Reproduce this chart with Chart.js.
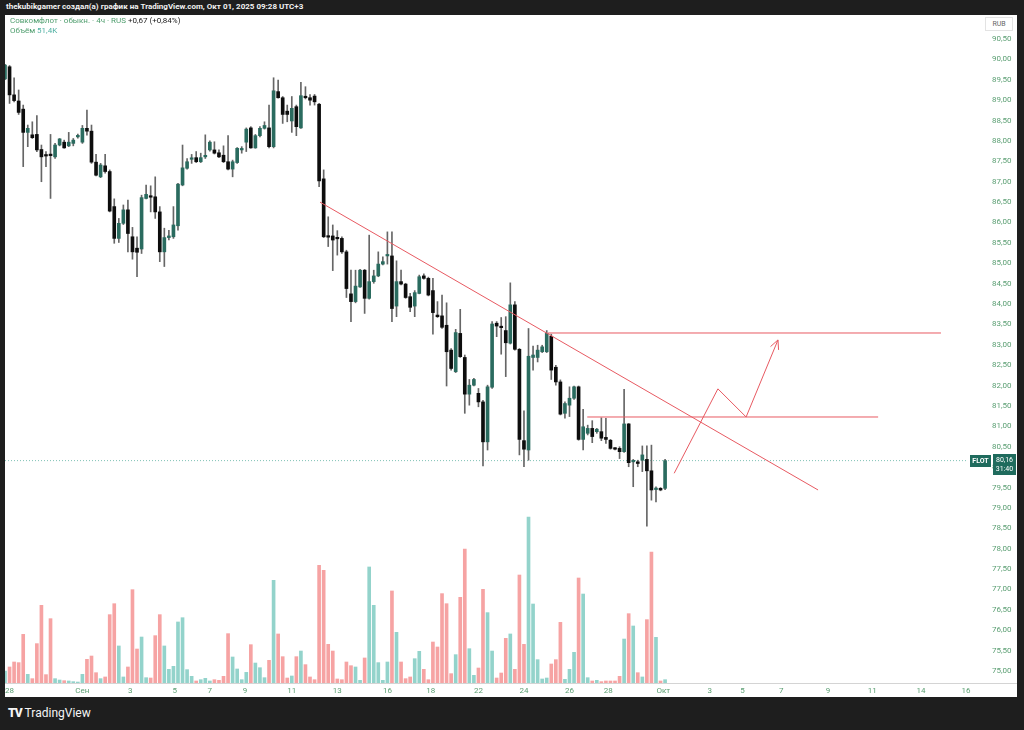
<!DOCTYPE html>
<html>
  <head>
    <meta charset="utf-8">
    <style>
      body {
        margin: 0;
        width: 1024px;
        height: 730px;
        overflow: hidden;
        background: #1e1e1e;
        font-family: Roboto, "Liberation Sans", sans-serif;
      }
      #header {
        position: absolute;
        left: 6px;
        top: 0;
        height: 14px;
        line-height: 14px;
        color: #f2f2f2;
        font-size: 8px;
        font-weight: bold;
      }
      #chart-container {
        position: absolute;
        left: 5px;
        top: 15px;
        width: 1012px;
        height: 682px;
        background: #ffffff;
      }
      #legend {
        position: absolute;
        left: 10px;
        top: 16px;
        font-size: 8px;
        line-height: 10px;
        color: #4f9e6e;
      }
      #rub {
        position: absolute;
        left: 985px;
        top: 17px;
        width: 26px;
        height: 12px;
        border: 1px solid #e3e3e3;
        background: #fff;
        color: #666;
        font-size: 7px;
        line-height: 12px;
        text-align: center;
      }
      #logo {
        position: absolute;
        left: 8px;
        top: 705px;
        color: #f5f5f5;
        font-size: 12px;
        line-height: 16px;
      }
      #logo b { font-weight: 900; letter-spacing: -1px; margin-right: 3px; }
    </style>
  </head>
  <body>
    <div id="header">thekubikgamer создал(а) график на TradingView.com, Окт 01, 2025 09:28 UTC+3</div>
    <div id="chart-container">
      <canvas id="chart"></canvas>
    </div>
    <div id="legend">
      <div>Совкомфлот · обыкн. · 4ч · RUS <span style="color:#222">+0,67 (+0,84%)</span></div>
      <div>Объём <span style="color:#4fb0a2">51,4K</span></div>
    </div>
    <div id="rub">RUB</div>
    <div id="logo"><b>TV</b>TradingView</div>

    <script src="https://cdn.jsdelivr.net/npm/chart.js"></script>
    <script>
      // 4h candles, FLOT (Совкомфлот), Aug 28 - Oct 1 2025
      const opens = [
        89.52, 89.82, 89.13, 88.98, 88.78, 88.21, 88.15, 88.16, 87.79, 87.65,
        87.65, 87.61, 87.90, 87.97, 87.88, 87.94, 88.10, 87.97, 88.31, 88.24,
        87.48, 87.12, 87.39, 87.25, 86.39, 85.61, 85.98, 86.31, 85.65, 85.37,
        85.35, 86.59, 86.63, 86.63, 86.26, 85.28, 85.63, 85.65, 85.92, 86.92,
        87.33, 87.55, 87.59, 87.49, 87.61, 87.78, 87.78, 87.71, 87.65, 87.49,
        87.31, 87.47, 87.78, 87.97, 88.32, 87.83, 88.13, 88.31, 88.32, 87.86,
        89.21, 89.06, 88.73, 88.49, 88.84, 88.32, 89.07, 89.06, 89.10, 88.90,
        87.07, 85.65, 85.67, 85.61, 85.61, 85.28, 84.25, 84.06, 84.42, 84.83,
        84.14, 84.55, 84.69, 84.98, 85.18, 85.18, 83.95, 84.55, 84.49, 84.18,
        83.95, 84.26, 84.69, 84.63, 84.33, 83.73, 83.71, 83.48, 82.87, 82.34,
        83.28, 82.69, 81.79, 82.01, 81.81, 81.60, 80.62, 81.96, 83.53, 83.43,
        83.35, 83.04, 83.98, 82.89, 80.65, 80.42, 82.69, 82.69, 82.83, 82.83,
        83.21, 82.45, 82.09, 81.32, 81.52, 81.69, 81.97, 80.68, 80.83, 80.95,
        80.87, 80.87, 80.73, 80.66, 80.46, 80.46, 80.38, 81.06, 80.13, 80.13,
        80.17, 80.19, 79.91, 79.45, 79.48, 79.48
      ];
      const highs = [
        89.88, 89.85, 89.55, 89.25, 88.88, 88.39, 88.47, 88.62, 87.90, 87.74,
        88.16, 87.94, 88.06, 88.02, 88.21, 88.06, 88.17, 88.38, 88.76, 88.39,
        87.67, 87.45, 87.67, 87.29, 86.58, 86.10, 86.43, 86.55, 85.88, 85.65,
        86.67, 86.92, 86.90, 87.12, 86.39, 85.86, 85.81, 86.39, 86.96, 87.90,
        87.57, 87.67, 87.74, 87.70, 88.15, 88.00, 87.98, 87.78, 87.88, 88.13,
        87.53, 87.84, 87.86, 88.32, 88.35, 88.16, 88.35, 88.47, 88.88, 89.55,
        89.49, 89.09, 88.88, 89.09, 88.88, 89.44, 89.33, 89.14, 89.14, 88.92,
        87.29, 86.14, 85.94, 85.80, 85.65, 85.32, 84.83, 84.83, 84.85, 84.85,
        85.69, 84.83, 85.28, 85.16, 85.77, 85.77, 85.06, 84.83, 84.51, 84.26,
        84.33, 84.71, 84.74, 84.66, 84.63, 84.06, 84.22, 84.03, 82.91, 83.38,
        83.87, 82.75, 82.15, 82.18, 81.93, 81.64, 82.01, 83.57, 83.57, 83.67,
        83.69, 84.52, 84.06, 82.91, 81.38, 83.40, 82.97, 82.99, 82.99, 83.35,
        83.26, 82.50, 82.14, 81.60, 81.97, 81.99, 81.99, 81.42, 81.03, 81.14,
        80.95, 81.21, 81.20, 80.68, 80.48, 80.50, 81.91, 81.07, 80.19, 80.17,
        80.52, 80.52, 80.54, 79.52, 79.50, 80.19
      ];
      const lows = [
        89.50, 88.92, 88.96, 88.65, 87.37, 87.86, 88.06, 87.74, 87.00, 87.37,
        86.59, 87.57, 87.88, 87.82, 87.86, 87.88, 88.07, 87.94, 88.14, 87.45,
        87.14, 87.10, 87.21, 86.26, 85.49, 85.51, 85.95, 85.28, 85.10, 84.67,
        85.24, 86.58, 86.26, 86.10, 85.04, 84.92, 85.57, 85.61, 85.81, 86.90,
        87.31, 87.45, 87.47, 87.47, 87.57, 87.75, 87.68, 87.59, 87.47, 87.29,
        87.12, 87.45, 87.70, 87.74, 87.82, 87.82, 88.10, 88.29, 87.83, 87.83,
        89.05, 88.43, 88.47, 88.21, 88.13, 88.31, 89.03, 88.88, 88.88, 86.88,
        85.63, 85.41, 84.82, 85.20, 85.24, 84.16, 83.57, 84.03, 84.41, 83.77,
        84.12, 84.51, 84.67, 84.96, 84.98, 83.57, 83.69, 84.47, 84.14, 83.81,
        83.69, 84.25, 84.61, 84.20, 83.26, 83.67, 83.40, 81.99, 82.38, 82.32,
        82.69, 81.32, 81.52, 81.99, 81.48, 80.03, 80.42, 81.93, 83.20, 82.77,
        82.22, 83.02, 82.87, 80.30, 80.01, 80.17, 82.38, 82.58, 82.81, 82.81,
        82.15, 82.01, 81.28, 81.20, 81.24, 81.66, 80.66, 80.42, 80.79, 80.60,
        80.83, 80.65, 80.58, 80.44, 80.42, 80.21, 80.36, 80.01, 79.52, 80.01,
        79.89, 78.55, 79.19, 79.15, 79.42, 79.45
      ];
      const closes = [
        89.86, 89.13, 88.99, 88.70, 88.21, 88.31, 88.08, 87.78, 87.61, 87.63,
        87.64, 87.90, 88.05, 87.83, 87.97, 88.02, 88.12, 88.31, 88.24, 87.48,
        87.16, 87.41, 87.25, 86.28, 85.61, 85.98, 86.31, 85.73, 85.28, 85.27,
        86.61, 86.69, 86.62, 86.26, 85.28, 85.63, 85.67, 85.94, 86.94, 87.34,
        87.49, 87.57, 87.49, 87.59, 87.63, 87.97, 87.70, 87.61, 87.49, 87.31,
        87.49, 87.82, 87.80, 88.29, 87.83, 88.13, 88.31, 88.38, 87.86, 89.23,
        89.06, 88.65, 88.65, 88.80, 88.35, 89.11, 89.06, 89.00, 88.96, 87.02,
        85.65, 85.64, 85.57, 85.60, 85.28, 84.38, 84.06, 84.44, 84.83, 84.14,
        84.55, 84.69, 84.98, 85.04, 85.19, 83.89, 84.55, 84.49, 84.16, 83.92,
        84.28, 84.67, 84.63, 84.22, 83.79, 83.69, 83.43, 82.83, 82.42, 83.30,
        82.71, 81.79, 82.01, 82.15, 81.60, 80.62, 81.97, 83.51, 83.46, 83.42,
        83.05, 83.98, 82.89, 80.68, 80.44, 82.72, 82.75, 82.87, 82.95, 83.28,
        82.38, 82.09, 81.30, 81.56, 81.69, 81.97, 80.68, 80.99, 80.95, 80.75,
        80.93, 80.71, 80.68, 80.46, 80.44, 80.38, 81.06, 80.11, 80.13, 80.09,
        80.30, 79.91, 79.44, 79.45, 79.44, 80.16
      ];
      // volume, thousands of shares
      const volumes = [
        185, 247, 324, 314, 750, 134, 67, 607, 1198, 129,
        992, 67, 46, 36, 31, 21, 15, 134, 365, 416,
        159, 67, 93, 1054, 1223, 571, 93, 247, 1439, 524,
        709, 82, 77, 730, 1054, 571, 211, 257, 941, 1007,
        206, 103, 31, 51, 72, 31, 51, 41, 103, 761,
        401, 216, 51, 164, 591, 308, 236, 82, 350, 1583,
        756, 406, 77, 108, 406, 493, 283, 93, 51, 1814,
        1737, 596, 493, 62, 51, 324, 267, 247, 41, 386,
        1789, 1198, 314, 41, 324, 1419, 781, 324, 67, 93,
        375, 488, 211, 51, 632, 555, 1378, 1223, 144, 437,
        1321, 2066, 529, 118, 231, 1444, 1085, 493, 77, 154,
        689, 756, 211, 1665, 596, 2560, 1218, 360, 62, 77,
        293, 360, 935, 57, 211, 473, 1619, 1372, 82, 31,
        41, 21, 31, 31, 31, 103, 678, 1069, 879, 159,
        93, 977, 2020, 704, 31, 51
      ];

      // time axis: bar index of each date label
      const tickIdx = [1, 17, 27.5, 37.3, 45, 52.7, 63, 73, 84, 93.5, 104, 114, 124, 132.5, 144.6, 154.8, 162, 170.5, 180.8, 190.5, 201.2, 211.1];
      const tickText = ["28", "Сен", "3", "5", "7", "9", "11", "13", "16", "18", "22", "24", "26", "28", "Окт", "3", "5", "7", "9", "11", "14", "16"];

      const priceTicks = [
        75, 75.5, 76, 76.5, 77, 77.5, 78, 78.5, 79, 79.5, 80, 80.5, 81, 81.5, 82, 82.5,
        83, 83.5, 84, 84.5, 85, 85.5, 86, 86.5, 87, 87.5, 88, 88.5, 89, 89.5, 90, 90.5
      ];

      // drawings on the chart (bar index, price)
      const trendLine = [{ x: 69.2, y: 86.50 }, { x: 178.6, y: 79.44 }];
      const levelHigh = [{ x: 119.3, y: 83.29 }, { x: 205.6, y: 83.29 }];
      const levelLow = [{ x: 127.9, y: 81.23 }, { x: 191.8, y: 81.23 }];
      const arrowPath = [{ x: 147.0, y: 79.85 }, { x: 156.6, y: 81.92 }, { x: 162.8, y: 81.23 }, { x: 169.8, y: 83.12 }];

      const lastPrice = closes[closes.length - 1];
      const xMax = 211.1;

      const UP = "#2a6b5f";
      const DOWN = "#0d0d0d";
      const WICK = "#666666";
      const VOL_UP = "#93d3cb";
      const VOL_DOWN = "#f6a3a3";
      const RED = "#e85a62";
      const AXIS_TEXT = "#5a9e72";

      const isUp = opens.map(function (o, i) { return closes[i] >= o; });

      const wickData = opens.map(function (o, i) { return { x: i, y: [lows[i], highs[i]] }; });
      const bodyData = opens.map(function (o, i) { return { x: i, y: [o, closes[i]] }; });
      const volData = volumes.map(function (v, i) { return { x: i, y: v }; });

      const bgPlugin = {
        id: "bg",
        beforeDraw: function (chart) {
          const ctx = chart.ctx;
          ctx.save();
          ctx.fillStyle = "#ffffff";
          ctx.fillRect(0, 0, chart.width, chart.height);
          ctx.restore();
        }
      };

      const overlayPlugin = {
        id: "overlay",
        afterDatasetsDraw: function (chart) {
          const ctx = chart.ctx;
          // arrow head at the end of the zigzag
          const meta = chart.getDatasetMeta(5);
          const pts = meta.data;
          const a = pts[pts.length - 2], b = pts[pts.length - 1];
          const ang = Math.atan2(b.y - a.y, b.x - a.x);
          ctx.save();
          ctx.strokeStyle = RED;
          ctx.lineWidth = 1;
          ctx.beginPath();
          [0.45, -0.45].forEach(function (d) {
            ctx.moveTo(b.x, b.y);
            ctx.lineTo(b.x - 10 * Math.cos(ang + d), b.y - 10 * Math.sin(ang + d));
          });
          ctx.stroke();
          ctx.restore();
        },
        afterDraw: function (chart) {
          const ctx = chart.ctx;
          const area = chart.chartArea;
          ctx.save();
          // time axis border across the full width
          ctx.strokeStyle = "#d4d4d4";
          ctx.lineWidth = 1;
          ctx.beginPath();
          ctx.moveTo(0, area.bottom + 0.5);
          ctx.lineTo(chart.width, area.bottom + 0.5);
          ctx.stroke();

          // last price labels
          const y = Math.round(chart.scales.y.getPixelForValue(lastPrice));
          ctx.fillStyle = "#1f6b5d";
          ctx.fillRect(area.right + 4, y - 6, 21, 12);
          ctx.fillRect(area.right + 27, y - 7, 23, 21);
          ctx.fillStyle = "#ffffff";
          ctx.font = "bold 7px Roboto, sans-serif";
          ctx.textAlign = "center";
          ctx.textBaseline = "middle";
          ctx.fillText("FLOT", area.right + 14.5, y);
          ctx.font = "7px Roboto, sans-serif";
          ctx.fillText(lastPrice.toFixed(2).replace(".", ","), area.right + 38.5, y - 1);
          ctx.fillText("31:40", area.right + 38.5, y + 8);
          ctx.restore();
        }
      };

      const canvas = document.getElementById("chart");

      new Chart(canvas, {
        type: "bar",
        data: {
          datasets: [
            {
              label: "wick",
              data: wickData,
              backgroundColor: WICK,
              barThickness: 1,
              grouped: false,
              yAxisID: "y",
              order: 3
            },
            {
              label: "body",
              data: bodyData,
              backgroundColor: isUp.map(function (u) { return u ? UP : DOWN; }),
              borderWidth: 0,
              barThickness: 3,
              minBarLength: 1.5,
              grouped: false,
              yAxisID: "y",
              order: 2
            },
            {
              label: "volume",
              data: volData,
              backgroundColor: isUp.map(function (u) { return u ? VOL_UP : VOL_DOWN; }),
              barThickness: 3,
              grouped: false,
              yAxisID: "yv",
              order: 6
            },
            {
              type: "line",
              label: "trend",
              data: trendLine,
              borderColor: RED,
              borderWidth: 1,
              pointRadius: 0,
              yAxisID: "y",
              order: 1
            },
            {
              type: "line",
              label: "level high",
              data: levelHigh,
              borderColor: RED,
              borderWidth: 1,
              pointRadius: 0,
              yAxisID: "y",
              order: 1
            },
            {
              type: "line",
              label: "arrow",
              data: arrowPath,
              borderColor: RED,
              borderWidth: 1,
              pointRadius: 0,
              tension: 0,
              yAxisID: "y",
              order: 1
            },
            {
              type: "line",
              label: "level low",
              data: levelLow,
              borderColor: RED,
              borderWidth: 1,
              pointRadius: 0,
              yAxisID: "y",
              order: 1
            },
            {
              type: "line",
              label: "last price",
              data: [{ x: 0, y: lastPrice }, { x: xMax, y: lastPrice }],
              borderColor: "#7fc2b5",
              borderWidth: 1,
              borderDash: [1, 2],
              pointRadius: 0,
              yAxisID: "y",
              order: 4
            }
          ]
        },
        options: {
          responsive: true,
          maintainAspectRatio: false,
          animation: false,
          layout: { padding: 0 },
          plugins: {
            legend: { display: false },
            tooltip: { enabled: false }
          },
          scales: {
            x: {
              type: "linear",
              min: 0,
              max: xMax,
              offset: false,
              position: "bottom",
              grid: { display: false, offset: false, drawTicks: false },
              border: { display: false },
              afterBuildTicks: function (scale) {
                scale.ticks = tickIdx.map(function (v) { return { value: v }; });
              },
              afterFit: function (scale) {
                scale.height = 14;
                scale.paddingLeft = 0;
                scale.paddingRight = 0;
              },
              ticks: {
                autoSkip: false,
                maxRotation: 0,
                padding: 3,
                color: AXIS_TEXT,
                font: { size: 8, family: "Roboto" },
                callback: function (value, index) { return tickText[index]; }
              }
            },
            y: {
              type: "linear",
              position: "right",
              min: 74.706,
              max: 91.089,
              grid: { display: false, drawTicks: false },
              border: { display: false },
              afterBuildTicks: function (scale) {
                scale.ticks = priceTicks.map(function (v) { return { value: v }; });
              },
              afterFit: function (scale) {
                scale.width = 51;
                scale.paddingTop = 0;
                scale.paddingBottom = 0;
              },
              ticks: {
                padding: 26,
                color: AXIS_TEXT,
                font: { size: 8, family: "Roboto" },
                callback: function (value) { return value.toFixed(2).replace(".", ","); }
              }
            },
            yv: {
              type: "linear",
              display: false,
              min: 0,
              max: 10300
            }
          }
        },
        plugins: [bgPlugin, overlayPlugin]
      });
    </script>
  </body>
</html>
